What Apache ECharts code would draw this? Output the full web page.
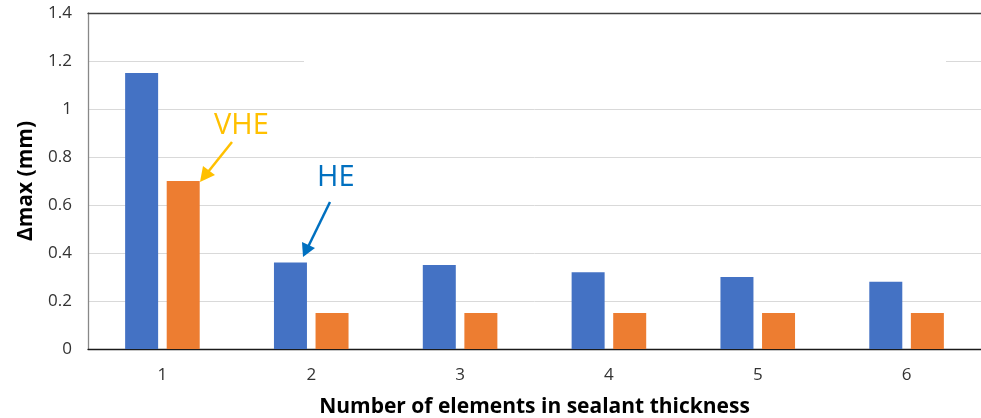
<!DOCTYPE html>
<html><head><meta charset="utf-8">
<script src="https://cdn.jsdelivr.net/npm/echarts@6/dist/echarts.min.js"></script>
<style>html,body{margin:0;padding:0;background:#fff}#c{width:981px;height:418px}</style>
</head><body><div id="c"></div>
<script>
const categories = ['1','2','3','4','5','6'];
const heValues  = [1.15, 0.36, 0.35, 0.32, 0.30, 0.28];
const vheValues = [0.70, 0.15, 0.15, 0.15, 0.15, 0.15];
const yTicks = [0, 0.2, 0.4, 0.6, 0.8, 1, 1.2, 1.4];

const FONT = '"Open Sans", sans-serif';
const chart = echarts.init(document.getElementById('c'), null, {renderer:'canvas'});
chart.setOption({
  animation:false,
  backgroundColor:'#fff',
  grid:{left:88, right:0, top:13, bottom:69, containLabel:false, outerBoundsMode:'none'},
  xAxis:[{
    type:'category', data:categories, position:'bottom',
    name:'Number of elements in sealant thickness', nameLocation:'middle', nameGap:48,
    nameTextStyle:{fontFamily:FONT, fontSize:21, fontWeight:'bold', color:'#000'},
    axisLine:{lineStyle:{color:'#1a1a1a', width:1.3}},
    axisTick:{show:false},
    axisLabel:{fontFamily:FONT, fontSize:17, color:'#333', margin:18}
  },{
    type:'category', data:categories, position:'top',
    axisLine:{lineStyle:{color:'#404040', width:1.3}},
    axisTick:{show:false}, axisLabel:{show:false}, splitLine:{show:false}
  }],
  yAxis:{
    type:'value', min:0, max:1.4, interval:0.2,
    name:'Δmax (mm)', nameLocation:'middle', nameGap:51,
    nameTextStyle:{fontFamily:FONT, fontSize:21, fontWeight:'bold', color:'#000'},
    axisLine:{show:true, lineStyle:{color:'#888', width:1.3}},
    axisTick:{show:false},
    axisLabel:{fontFamily:FONT, fontSize:17, color:'#333', margin:16,
      formatter:v=>{const t=yTicks.find(x=>Math.abs(x-v)<1e-9); return t===undefined?'':String(t);}},
    splitLine:{lineStyle:{color:'#d9d9d9', width:1}}
  },
  series:[
    {name:'HE', type:'bar', data:heValues, barWidth:33, barGap:'26%', itemStyle:{color:'#4472C4'}},
    {name:'VHE', type:'bar', data:vheValues, barWidth:33, barGap:'26%', itemStyle:{color:'#ED7D31'}}
  ],
  graphic:[
    {type:'rect', shape:{x:304, y:58, width:642, height:6}, style:{fill:'#fff'}, z:1},
    {type:'text', left:214, top:111, style:{text:'VHE', fill:'#FFC000', font:'29px '+FONT}, z:10},
    {type:'line', shape:{x1:232, y1:142, x2:208, y2:172}, style:{stroke:'#FFC000', lineWidth:2.5}, z:10},
    {type:'polygon', shape:{points:[[200,182],[203,166],[215,175]]}, style:{fill:'#FFC000'}, z:10},
    {type:'text', left:317, top:163, style:{text:'HE', fill:'#0070C0', font:'29px '+FONT}, z:10},
    {type:'line', shape:{x1:330, y1:202, x2:308, y2:247}, style:{stroke:'#0070C0', lineWidth:2.5}, z:10},
    {type:'polygon', shape:{points:[[303,257],[302,242],[315,248]]}, style:{fill:'#0070C0'}, z:10}
  ]
});
</script></body></html>
